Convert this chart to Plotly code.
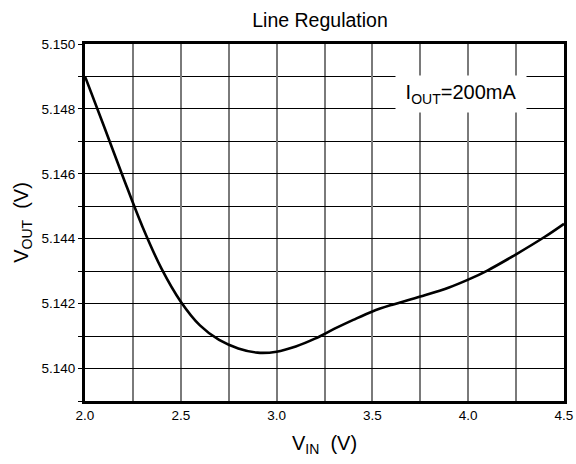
import plotly.graph_objects as go

# Data
vin = [2.0, 2.1, 2.2, 2.3, 2.4, 2.5, 2.6, 2.7, 2.8, 2.9, 3.0, 3.1, 3.2, 3.3,
       3.4, 3.5, 3.6, 3.75, 3.9, 4.0, 4.1, 4.25, 4.4, 4.5]
vout = [5.14900, 5.14745, 5.14588, 5.14437, 5.14307, 5.14206, 5.14133, 5.14088,
        5.14062, 5.14049, 5.14052, 5.14068, 5.14092, 5.14122, 5.14150, 5.14176,
        5.14196, 5.14222, 5.14250, 5.14274, 5.14302, 5.14352, 5.14406, 5.14446]

x_tickvals = [2.0, 2.5, 3.0, 3.5, 4.0, 4.5]
x_ticktext = ["2.0", "2.5", "3.0", "3.5", "4.0", "4.5"]
y_tickvals = [5.140, 5.142, 5.144, 5.146, 5.148, 5.150]
y_ticktext = ["5.140", "5.142", "5.144", "5.146", "5.148", "5.150"]

title_text = "Line Regulation"
x_title = "V<sub>IN</sub>\u00a0\u00a0(V)"
y_title = "V<sub>OUT</sub>\u00a0\u00a0(V)"
note_text = "I<sub>OUT</sub>=200mA"

FONT = "Liberation Sans, Arial, sans-serif"

fig = go.Figure()
fig.add_trace(go.Scatter(
    x=vin, y=vout, mode="lines",
    line=dict(color="black", width=2.6, shape="spline", smoothing=1.0),
    showlegend=False, hoverinfo="skip",
))

fig.update_layout(
    width=576, height=464,
    margin=dict(l=85, r=12, t=44, b=63),
    paper_bgcolor="white", plot_bgcolor="white",
    font=dict(family=FONT, color="black"),
    title=dict(text=title_text, font=dict(size=19.5, family=FONT, color="black"),
               x=320 / 576, xref="container", xanchor="center",
               y=1 - 20 / 464, yref="container", yanchor="middle"),
    showlegend=False,
)

fig.update_xaxes(
    range=[2.0, 4.5], tickvals=x_tickvals, ticktext=x_ticktext,
    tickfont=dict(size=13.5, family=FONT, color="black"),
    showgrid=True, gridcolor="#7a7a7a", gridwidth=2,
    minor=dict(dtick=0.25, tick0=2.0, showgrid=True, gridcolor="#7a7a7a", gridwidth=2),
    showline=True, linecolor="black", linewidth=3, mirror=True,
    ticks="", zeroline=False,
    title=dict(text=x_title, font=dict(size=20, family=FONT, color="black"), standoff=14),
    automargin=False,
)

fig.update_yaxes(
    range=[5.139, 5.150], tickvals=y_tickvals, ticktext=y_ticktext,
    tickfont=dict(size=13.5, family=FONT, color="black"),
    showgrid=True, gridcolor="black", gridwidth=1,
    ticks="outside", ticklen=4, tickcolor="black", tickwidth=1,
    minor=dict(dtick=0.001, tick0=5.139, showgrid=True, gridcolor="black", gridwidth=1,
               ticks="outside", ticklen=4, tickcolor="black", tickwidth=1),
    showline=True, linecolor="black", linewidth=3, mirror=True,
    zeroline=False,
    title=dict(text=y_title, font=dict(size=20, family=FONT, color="black"), standoff=8),
    automargin=False,
)

fig.add_annotation(
    x=3.96, y=5.14846, xref="x", yref="y",
    text=note_text, showarrow=False,
    font=dict(size=20, family=FONT, color="black"),
    bgcolor="white", width=128, height=34, borderpad=1,
    xanchor="center", yanchor="middle",
)

fig.write_html("out.html", config={"displayModeBar": False},
               post_script="document.body.style.margin='0';")
